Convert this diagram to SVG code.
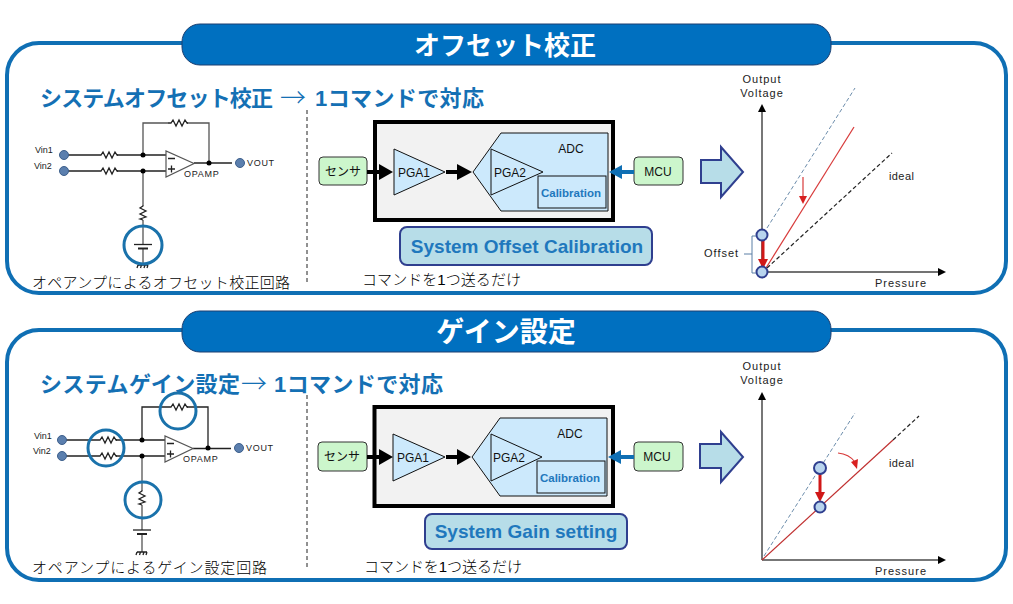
<svg xmlns="http://www.w3.org/2000/svg" xmlns:xlink="http://www.w3.org/1999/xlink" width="1013" height="604" viewBox="0 0 1013 604">
<style>
text{font-family:"Liberation Sans","Noto Sans CJK JP",sans-serif}
.panel{fill:#fff;stroke:#0f6fb4;stroke-width:4}
.pill{fill:#0070c0;stroke:#1c3f70;stroke-width:1}
.title{fill:#fff;font-size:28px;font-weight:700;text-anchor:middle}
.head{fill:#1470b4;font-size:22px;font-weight:700}
.thin{fill:#1470b4;font-size:26px;font-weight:300;font-family:"Noto Sans CJK JP",sans-serif}
.cap{fill:#000;font-size:15px;font-weight:300}
.small{fill:#222;font-size:9px}
.wire{fill:none;stroke:#222;stroke-width:1.3}
.wg{fill:none;stroke:#555;stroke-width:1.3}
.dot{fill:#000}
.pin{fill:#5b7fae;stroke:#3d5f8c;stroke-width:1}
.ring{fill:none;stroke:#1a72ab;stroke-width:3}
.amp{fill:#fff;stroke:#555;stroke-width:1.2}
.div{stroke:#222;stroke-width:1;stroke-dasharray:4 3}
.chip{fill:#f2f2f2;stroke:#000;stroke-width:4}
.adc{fill:#cce9fc;stroke:#111;stroke-width:1}
.box{fill:#ccf6cc;stroke:#333;stroke-width:1}
.lbl{fill:#111;font-size:12px}
.mid{text-anchor:middle}
.cal{fill:#1f78bd;font-size:11.5px;font-weight:700;text-anchor:middle}
.big{fill:#b7dde8;stroke:#2f3f8f;stroke-width:2}
.bigt{fill:#1f78bd;font-size:19px;font-weight:700;text-anchor:middle}
.fl{stroke:#000;stroke-width:4;fill:none}
.flb{stroke:#0f6fb4;stroke-width:4;fill:none}
.axis{stroke:#777;stroke-width:2;fill:none}
.axk{stroke:#444;stroke-width:1.5;fill:none}
.gl{font-size:11px;fill:#222;letter-spacing:1px}
.m{fill:#b8d4ee;stroke:#2f3f8f;stroke-width:2}
</style>
<defs>
<path id="rh" class="wire" d="M0 0l3 0 2-3 3 6 3-6 3 6 3-6 2 3 1 0"/>
<path id="rv" class="wire" d="M0 0l0 1 -3 2 6 3 -6 3 6 3 -6 2 3 1"/>
<path id="gnd" class="wire" d="M-5 0h10M-5 0l-1 3M-1.500 0l-1 3M2 0l-1 3M5 0l-1 3"/>
</defs>
<rect width="1013" height="604" fill="#fff"/>

<g id="panel-offset"><rect class="panel" x="7" y="43" width="999" height="250" rx="32"/></g>
<g id="title-offset"><rect class="pill" x="182" y="24" width="649" height="41" rx="18"/><text class="title" x="505" y="55" style="font-size:26px">オフセット校正</text></g>
<g id="heading-offset"><text class="head" x="40" y="106" textLength="233">システムオフセット校正</text><text class="thin" x="280" y="107">→</text><text class="head" x="315" y="106" textLength="169">1コマンドで対応</text></g>

<g id="circuit-offset">
<g class="wires">
<path class="wire" d="M64 155H98M117 155H143H166M64 171H98M117 171H143H166"/>
<path class="wg" d="M143 155V123H168M187 123H209V163M143 171V205M143 220V265"/>
<path class="wire" d="M194 163H232"/>
</g>
<use href="#rh" x="98" y="155"/><use href="#rh" x="98" y="171"/><use href="#rh" x="168" y="123"/><use href="#rv" x="143" y="205"/>
<path class="amp" d="M166 151V177L194 163.500Z"/>
<path class="wire" d="M168 158.500h7M168 169h7M171.500 165.500v7"/>
<circle class="dot" cx="143" cy="155" r="2.500"/><circle class="dot" cx="143" cy="171" r="2.500"/><circle class="dot" cx="209" cy="163" r="2.500"/>
<circle class="pin" cx="64" cy="155" r="4.500"/><circle class="pin" cx="64" cy="171" r="4.500"/><circle class="pin" cx="240" cy="163" r="4.500"/>
<rect x="141" y="245" width="4" height="3" fill="#fff"/>
<path d="M134 244.500H152" stroke="#222" stroke-width="1.300"/><path d="M138 248.500H148" stroke="#222" stroke-width="2"/>
<use href="#gnd" x="143" y="265"/>
<circle class="ring" cx="143" cy="245" r="19"/>
<text class="small" x="35" y="153">Vin1</text><text class="small" x="34" y="169">Vin2</text><text class="small" x="247" y="166" letter-spacing=".7">VOUT</text><text class="small" x="184" y="177" letter-spacing=".7">OPAMP</text>
<text class="cap" x="32" y="288" textLength="258">オペアンプによるオフセット校正回路</text>
</g>
<line class="div" x1="307" y1="110" x2="307" y2="283"/>

<g id="chip-offset">
<rect class="chip" x="375" y="122" width="238" height="98"/>
<path class="adc" d="M473 172L501 133H608V211H501Z"/>
<path class="adc" d="M394 149V195L445 172Z"/><path class="adc" d="M491 149V195L543 172Z"/>
<rect class="adc" x="538" y="176" width="68" height="32"/>
<text class="lbl" x="398" y="177">PGA1</text><text class="lbl" x="494" y="177">PGA2</text><text class="lbl mid" x="571" y="153">ADC</text>
<text class="cal" x="571" y="197">Calibration</text>
</g>
<g id="sensor-offset"><rect class="box" x="319" y="157" width="48" height="28" rx="4"/><text class="lbl mid" x="343" y="176">センサ</text></g>
<g id="mcu-offset"><rect class="box" x="634" y="157" width="49" height="28" rx="4"/><text class="lbl mid" x="658" y="176">MCU</text></g>
<g id="flow-offset">
<path class="fl" d="M367 172H380"/><path d="M379 164L393 172L379 180Z"/>
<path class="fl" d="M446 172H459"/><path d="M457 164L472 172L457 180Z"/>
<path class="flb" d="M634 172H620"/><path d="M609 172L622 165V179Z" fill="#0f6fb4"/>
</g>
<g id="arrow-offset"><path class="big" d="M701 160H721V147L743 172L721 197V183H701Z"/></g>
<g id="label-offset"><rect class="big" x="400" y="227" width="252" height="38" rx="7"/><text class="bigt" x="527" y="253">System Offset Calibration</text></g>
<text class="cap" x="362" y="285" textLength="159">コマンドを1つ送るだけ</text>

<g id="graph-offset">
<path class="axis" d="M762 272V112"/><path d="M762 104L758 112H766Z" fill="#000"/>
<path class="axk" d="M762 272H940"/><path d="M946 272L938 268V276Z" fill="#000"/>
<path d="M767 228L855 88" stroke="#6b8cab" stroke-width="1" stroke-dasharray="4 2.500" fill="none"/>
<path d="M766 268L854 127" stroke="#d83a3a" stroke-width="1.200" fill="none"/>
<path d="M767 268L892 153" stroke="#222" stroke-width="1.200" stroke-dasharray="4 2.500" fill="none"/>
<path d="M803 177V197" stroke="#d83a3a" stroke-width="1.200"/><path d="M803 204L799 196H807Z" fill="#d82020"/>
<path d="M763 240V260" stroke="#d01818" stroke-width="3"/><path d="M763 269L758 259H768Z" fill="#d01818"/>
<circle class="m" cx="762" cy="235" r="5.500"/><circle class="m" cx="762" cy="272" r="5.500"/>
<path d="M756 236H752V273H756M752 254H744" fill="none" stroke="#5a7fa5" stroke-width="1"/>
<text class="gl mid" x="762" y="83">Output</text><text class="gl mid" x="762" y="97">Voltage</text>
<text class="gl" x="889" y="180" style="letter-spacing:.4px">ideal</text><text class="gl" x="704" y="257">Offset</text><text class="gl" x="875" y="287">Pressure</text>
</g>

<g id="panel-gain"><rect class="panel" x="7" y="330" width="999" height="250" rx="32"/></g>
<g id="title-gain"><rect class="pill" x="182" y="311" width="649" height="41" rx="18"/><text class="title" x="506" y="342">ゲイン設定</text></g>
<g id="heading-gain"><text class="head" x="40" y="392" textLength="200">システムゲイン設定</text><text class="thin" x="241" y="393">→</text><text class="head" x="274" y="392" textLength="169">1コマンドで対応</text></g>

<g id="circuit-gain">
<g class="wires">
<path class="wire" d="M62 440H97M116 440H142H165M62 456H97M116 456H142H165"/>
<path class="wire" d="M142 440V407H168M187 407H208V448"/>
<path class="wg" d="M142 456V490M142 505V552"/>
<path class="wire" d="M193 448.500H231"/>
</g>
<use href="#rh" x="97" y="440"/><use href="#rh" x="97" y="456"/><use href="#rh" x="168" y="407"/><use href="#rv" x="142" y="490"/>
<path class="amp" d="M165 436V462L193 448.500Z"/>
<path class="wire" d="M167 443.500h7M167 454h7M170.500 450.500v7"/>
<circle class="dot" cx="142" cy="440" r="2.500"/><circle class="dot" cx="142" cy="456" r="2.500"/><circle class="dot" cx="208" cy="448" r="2.500"/>
<circle class="pin" cx="62" cy="440" r="4.500"/><circle class="pin" cx="62" cy="456" r="4.500"/><circle class="pin" cx="239" cy="448" r="4.500"/>
<rect x="140" y="530" width="4" height="4" fill="#fff"/>
<path d="M133 530H151" stroke="#222" stroke-width="1.300"/><path d="M137 534H147" stroke="#222" stroke-width="2"/>
<use href="#gnd" x="142" y="552"/>
<circle class="ring" cx="178" cy="411" r="18"/><circle class="ring" cx="106" cy="448" r="18"/><circle class="ring" cx="143" cy="500" r="18"/>
<text class="small" x="34" y="439">Vin1</text><text class="small" x="33" y="454">Vin2</text><text class="small" x="246" y="451" letter-spacing=".7">VOUT</text><text class="small" x="183" y="462" letter-spacing=".7">OPAMP</text>
<text class="cap" x="32" y="573" textLength="235">オペアンプによるゲイン設定回路</text>
</g>
<line class="div" x1="307" y1="395" x2="307" y2="567"/>

<g id="chip-gain">
<rect class="chip" x="374.500" y="407" width="238.500" height="99"/>
<path class="adc" d="M472 457L500 418H607V496H500Z"/>
<path class="adc" d="M393 434V481L445 457Z"/><path class="adc" d="M491 434V481L542 457Z"/>
<rect class="adc" x="537" y="461" width="68" height="32"/>
<text class="lbl" x="397" y="462">PGA1</text><text class="lbl" x="493" y="462">PGA2</text><text class="lbl mid" x="570" y="438">ADC</text>
<text class="cal" x="570" y="482">Calibration</text>
</g>
<g id="sensor-gain"><rect class="box" x="318" y="442" width="49" height="29" rx="4"/><text class="lbl mid" x="342" y="461">センサ</text></g>
<g id="mcu-gain"><rect class="box" x="634" y="442" width="49" height="29" rx="4"/><text class="lbl mid" x="657" y="461">MCU</text></g>
<g id="flow-gain">
<path class="fl" d="M367 457H380"/><path d="M379 449L393 457L379 465Z"/>
<path class="fl" d="M446 457H459"/><path d="M457 449L471 457L457 465Z"/>
<path class="flb" d="M634 457H620"/><path d="M608 457L621 450V464Z" fill="#0f6fb4"/>
</g>
<g id="arrow-gain"><path class="big" d="M700 444H721V432L743 457L721 482V468H700Z"/></g>
<g id="label-gain"><rect class="big" x="425" y="514" width="202" height="35" rx="7"/><text class="bigt" x="526" y="538">System Gain setting</text></g>
<text class="cap" x="364" y="572" textLength="158">コマンドを1つ送るだけ</text>

<g id="graph-gain">
<path class="axis" d="M762 560V400"/><path d="M762 392L758 400H766Z" fill="#000"/>
<path class="axis" d="M762 560H940"/><path d="M946 560L938 556V564Z" fill="#000"/>
<path d="M764 556L855 413" stroke="#6b8cab" stroke-width="1" stroke-dasharray="4 2.500" fill="none"/>
<path d="M893 440L919 416" stroke="#222" stroke-width="1.200" stroke-dasharray="4 2.500" fill="none"/>
<path d="M762 560L893 440" stroke="#c03030" stroke-width="1.200" fill="none"/>
<path d="M838 453Q849 454 855 462" stroke="#d83a3a" stroke-width="1.200" fill="none"/><path d="M857 469L851 462L858 459Z" fill="#d82020"/>
<path d="M820 473V494" stroke="#d01818" stroke-width="3"/><path d="M820 502L815 492H825Z" fill="#d01818"/>
<circle class="m" cx="820" cy="468" r="6"/><circle class="m" cx="820" cy="507" r="5.500"/>
<text class="gl mid" x="762" y="370">Output</text><text class="gl mid" x="762" y="384">Voltage</text>
<text class="gl" x="889" y="467" style="letter-spacing:.4px">ideal</text><text class="gl" x="875" y="575">Pressure</text>
</g>
</svg>
